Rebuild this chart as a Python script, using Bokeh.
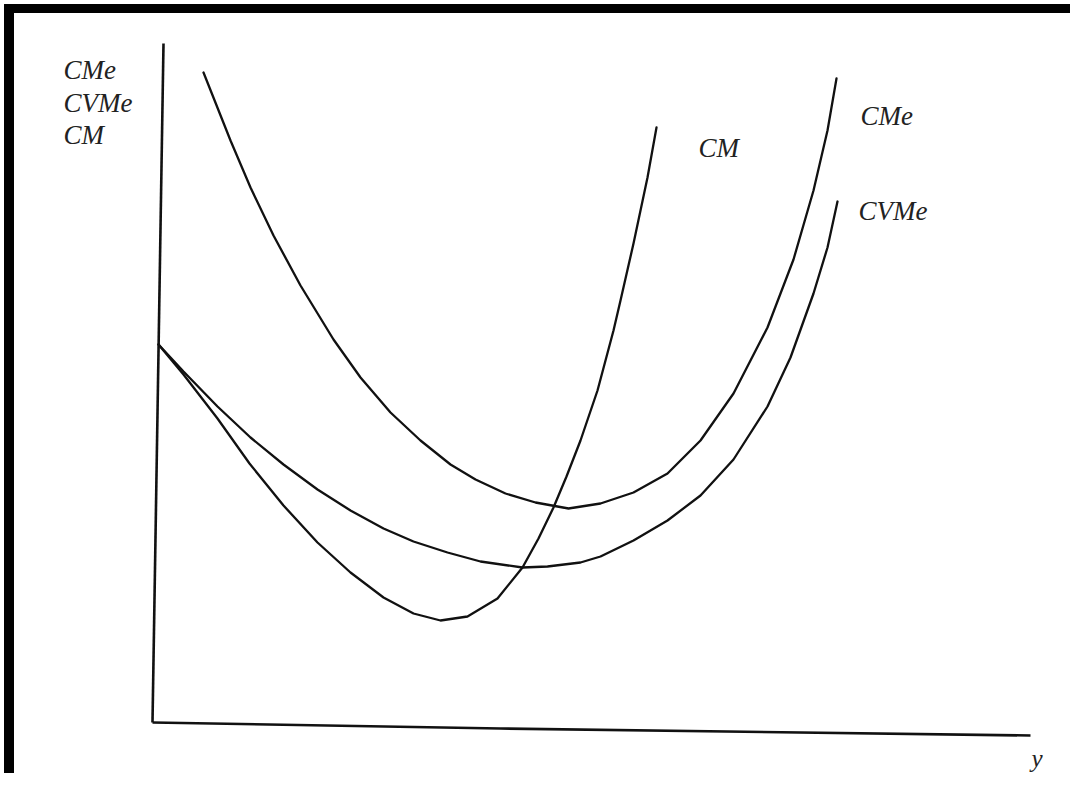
from bokeh.plotting import figure
from bokeh.models import Range1d
from bokeh.core.properties import value
from bokeh.embed import file_html
from bokeh.resources import INLINE

# --- data (output y on x, cost on vertical) ---
cme_x = [51, 78, 98, 121, 148, 181, 208, 238, 268, 298, 323, 353, 383, 416, 448, 481, 515, 548, 581, 598, 615, 641, 661, 675, 684]
cme_y = [650, 582, 535, 487, 437, 383, 345, 310, 282, 258, 243, 229, 220, 214, 219, 230, 249, 282, 329, 362, 395, 463, 532, 592, 644]

cvme_x = [6, 31, 65, 98, 131, 165, 198, 231, 261, 295, 328, 370, 395, 428, 448, 481, 515, 548, 581, 615, 638, 661, 675, 685]
cvme_y = [378, 351, 316, 285, 258, 233, 212, 194, 181, 170, 161, 155, 156, 160, 166, 182, 202, 227, 263, 316, 365, 429, 475, 521]

cm_x = [6, 31, 65, 97, 131, 165, 198, 231, 261, 288, 315, 345, 370, 386, 401, 414, 428, 445, 461, 468, 481, 495, 504]
cm_y = [378, 348, 304, 259, 217, 180, 150, 125, 109, 102, 106, 124, 155, 184, 215, 246, 282, 332, 392, 422, 479, 545, 595]

yaxis_x = [0, 11]
yaxis_y = [0, 679]
xaxis_x = [0, 348, 878]
xaxis_y = [0, -6, -13]

# labels
left_labels = ["CMe", "CVMe", "CM"]
left_lx = [-89, -89, -89]
left_ly = [653, 620, 588]
curve_labels = ["CM", "CMe", "CVMe"]
curve_lx = [546, 708, 706]
curve_ly = [575, 607, 512]
x_label = ["y"]
x_lx = [879]
x_ly = [-36]

X0, X1 = -152, 918
Y0, Y1 = -51, 722

p = figure(width=1070, height=773, output_backend="svg", toolbar_location=None,
           x_range=Range1d(X0, X1), y_range=Range1d(Y0, Y1),
           min_border=0, min_border_left=0, min_border_right=0,
           min_border_top=0, min_border_bottom=0)
p.axis.visible = False
p.grid.visible = False
p.outline_line_color = None
p.background_fill_color = "white"
p.border_fill_color = "white"

ink = "#111111"

# scanned frame (left and top edges)
p.quad(left=[X0 + 4], right=[X0 + 13], bottom=[Y0], top=[Y1 - 4], color="black")
p.quad(left=[X0 + 4], right=[X1], bottom=[Y1 - 12], top=[Y1 - 4], color="black")

# axes
p.line(yaxis_x, yaxis_y, line_color=ink, line_width=2.6)
p.line(xaxis_x, xaxis_y, line_color=ink, line_width=2.6)

# curves
for xs, ys in [(cme_x, cme_y), (cvme_x, cvme_y), (cm_x, cm_y)]:
    p.line(xs, ys, line_color=ink, line_width=2.3, line_join="round", line_cap="round")

font = value("Liberation Serif")
for txt, xs, ys, fs in [(left_labels, left_lx, left_ly, "27px"),
                        (curve_labels, curve_lx, curve_ly, "27px"),
                        (x_label, x_lx, x_ly, "25px")]:
    p.text(x=xs, y=ys, text=txt, text_font=font, text_font_style="italic",
           text_font_size=fs, text_color="#222222",
           text_align="left", text_baseline="alphabetic")

open("out.html", "w").write(file_html(p, INLINE))
